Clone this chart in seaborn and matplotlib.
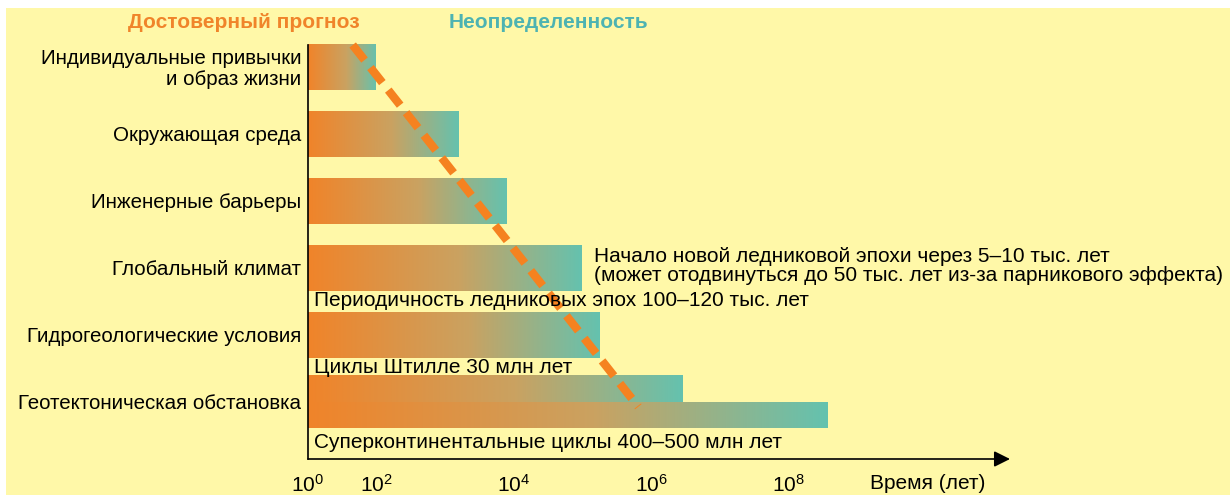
import numpy as np
import matplotlib
matplotlib.use("Agg")
import matplotlib.pyplot as plt
import matplotlib.transforms as mtransforms
from matplotlib.colors import LinearSegmentedColormap
from matplotlib.patches import Rectangle
import seaborn as sns


# ----------------------------- Data -----------------------------

categories = [
    "Индивидуальные привычки\nи образ жизни",
    "Окружающая среда",
    "Инженерные барьеры",
    "Глобальный климат",
    "Гидрогеологические условия",
    "Геотектоническая обстановка",
]
# reliable-forecast horizon (years) for the first five factors
bar_end_years = [100, 1600, 8000, 1.0e5, 1.8e5]
# geotectonics has two bars (Stille cycles / supercontinent cycles)
geo_end_years = [3.0e6, 3.8e8]

# dashed "reliable forecast" boundary (years, row index)
trend_years = [20, 6.5e5]
trend_rows = [-0.32, 5.08]

tick_years = [1, 1e2, 1e3, 1e4, 1e5, 1e6, 1e7, 1e8, 1e9]
tick_labels = [r"$10^0$", r"$10^2$", "", r"$10^4$", "", r"$10^6$", "", r"$10^8$", ""]

notes = [
    ("Начало новой ледниковой эпохи через 5–10 тыс. лет\n"
     "(может отодвинуться до 50 тыс. лет из-за парникового эффекта)", 0.407, 2.98),
    ("Периодичность ледниковых эпох 100–120 тыс. лет", 0.008, 3.50),
    ("Циклы Штилле 30 млн лет", 0.008, 4.50),
    ("Суперконтинентальные циклы 400–500 млн лет", 0.008, 5.62),
]

ORANGE = "#F0842A"
TEAL = "#4DB3B2"
BG = "#FFF8A8"
FS = 15
grad_cmap = LinearSegmentedColormap.from_list(
    "forecast", [(0.0, "#F0842A"), (0.55, "#CAA261"), (1.0, "#64C2AF")])


# the original axis squeezes 10^0..10^2 into one decade
def fwd(x):
    x = np.asarray(x, dtype=float)
    with np.errstate(divide="ignore", invalid="ignore"):
        lx = np.log10(x)
    return np.where(lx <= 2, lx / 2, lx - 1)


def inv(p):
    p = np.asarray(p, dtype=float)
    with np.errstate(over="ignore"):
        return np.where(p <= 1, 10 ** (2 * p), 10 ** (p + 1))


# ----------------------------- Plot -----------------------------

sns.set_theme(style="white")
plt.rcParams["font.family"] = ["Liberation Sans", "DejaVu Sans"]
plt.rcParams["text.color"] = "black"
plt.rcParams["xtick.color"] = "black"
plt.rcParams["ytick.color"] = "black"
plt.rcParams["mathtext.fontset"] = "custom"
plt.rcParams["mathtext.rm"] = "Liberation Sans"
plt.rcParams["mathtext.it"] = "Liberation Sans:italic"

fig = plt.figure(figsize=(12.3, 4.95), dpi=100, facecolor="white")
fig.add_artist(Rectangle((6 / 1230, 0), 1, 1 - 8 / 495, transform=fig.transFigure,
                         facecolor=BG, edgecolor="none", zorder=-10))
ax = fig.add_axes([308 / 1230, 1 - 459 / 495, 702 / 1230, 414 / 495])
ax.set_facecolor("none")

ax.set_xscale("function", functions=(fwd, inv))
ax.set_xlim(1, float(inv(10.23)))
ax.set_ylim(5.86, -0.32)
ax.set_autoscale_on(False)

rows = list(range(len(bar_end_years)))
bars = list(ax.barh(rows, np.array(bar_end_years) - 1, left=1, height=0.69,
                    color="none", edgecolor="none"))
# upper geotectonic bar reaches a hair under the lower one so no seam shows
geo_rows = [5 - 0.195, 5 + 0.2]
geo_heights = [0.41, 0.4]
bars += list(ax.barh(geo_rows, np.array(geo_end_years) - 1, left=1, height=geo_heights,
                     color="none", edgecolor="none"))

# gradient fill, running orange -> teal along each bar on screen
blend = mtransforms.blended_transform_factory(ax.transAxes, ax.transData)
gradient = np.linspace(0, 1, 256).reshape(1, -1)
to_axes = ax.transAxes.inverted()
for b in bars:
    x_end = b.get_x() + b.get_width()
    xfrac = to_axes.transform(ax.transData.transform((x_end, 0)))[0]
    y0, y1 = b.get_y(), b.get_y() + b.get_height()
    im = ax.imshow(gradient, cmap=grad_cmap, aspect="auto", interpolation="bilinear",
                   extent=(0, xfrac, y1, y0), transform=blend, zorder=1)
    im.set_clip_path(b)

sns.lineplot(x=trend_years, y=trend_rows, ax=ax, color="#F58220", lw=6,
             dashes=False, zorder=3, clip_on=False)
ax.lines[-1].set_dashes((2.3, 1.15))
ax.lines[-1].set_dash_capstyle("butt")

ax.set_yticks(range(len(categories)))
ax.set_yticklabels(categories, fontsize=14.8, linespacing=1.1)
ax.tick_params(axis="y", length=0, pad=5)
ax.set_xticks(tick_years)
ax.set_xticklabels(tick_labels, fontsize=FS)
ax.minorticks_off()
ax.tick_params(axis="x", direction="out", length=7, width=1.1, color="black", pad=4)

for side in ["top", "right", "bottom"]:
    ax.spines[side].set_visible(False)
ax.spines["left"].set_color("black")
ax.spines["left"].set_linewidth(1.2)
ax.annotate("", xy=(1.0, 0), xytext=(0, 0), xycoords="axes fraction",
            arrowprops=dict(arrowstyle="-|>", color="black", lw=1.2,
                            mutation_scale=24, shrinkA=0, shrinkB=0))

for txt, xf, yr in notes:
    ax.text(xf, yr, txt, transform=blend, fontsize=FS, va="center", ha="left",
            linespacing=0.95, zorder=4)

ax.text(0.80, -0.06, "Время (лет)", transform=ax.transAxes, fontsize=FS,
        va="center", ha="left")
fig.text(244 / 1230, 1 - 22 / 495, "Достоверный прогноз", color=ORANGE,
         fontsize=FS, fontweight="bold", ha="center", va="center")
fig.text(548 / 1230, 1 - 22 / 495, "Неопределенность", color=TEAL,
         fontsize=FS, fontweight="bold", ha="center", va="center")

fig.savefig("out.png", dpi=100)
